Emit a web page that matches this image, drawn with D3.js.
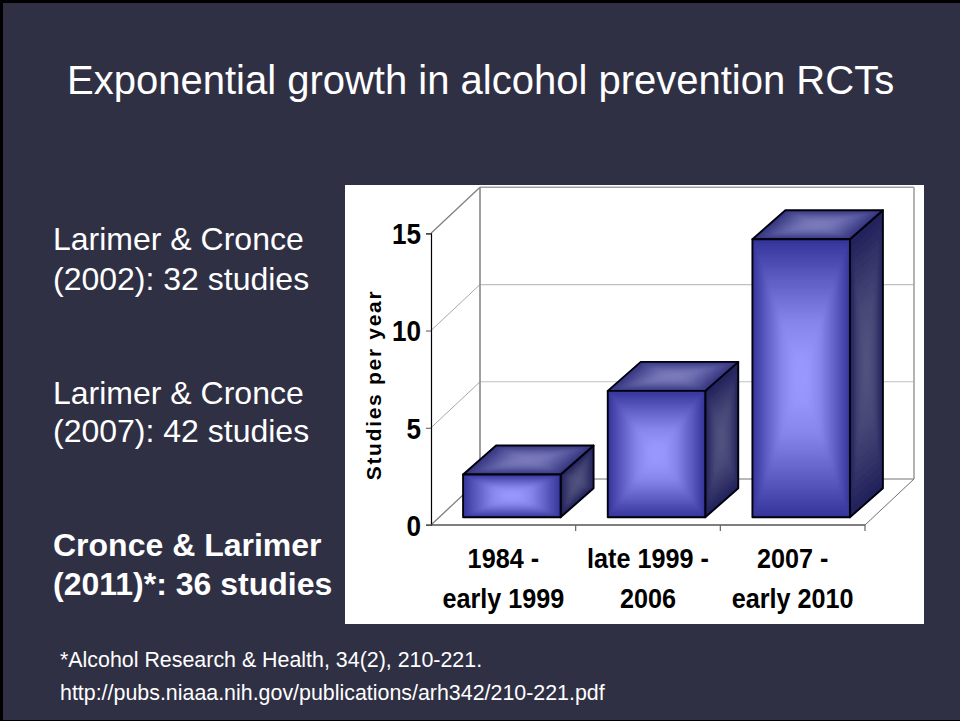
<!DOCTYPE html>
<html><head><meta charset="utf-8">
<script src="https://cdn.jsdelivr.net/npm/d3@7"></script>
<style>html,body{margin:0;padding:0;background:#303045}svg{display:block}
text{font-family:"Liberation Sans",Arial,sans-serif}</style></head>
<body><svg id="c" width="960" height="721"></svg>
<script>
const titleText = "Exponential growth in alcohol prevention RCTs";
const categories = [["1984 -","early 1999"],["late 1999 -","2006"],["2007 -","early 2010"]];
const values = [2.2, 6.5, 14.3];
const yTicks = [0,5,10,15];
const yLabel = "Studies per year";
const sideNotes = [
 {lines:["Larimer & Cronce","(2002): 32 studies"],bold:false,y:[250,290]},
 {lines:["Larimer & Cronce","(2007): 42 studies"],bold:false,y:[404,442]},
 {lines:["Cronce & Larimer","(2011)*: 36 studies"],bold:true,y:[556,595]}];
const footnotes = ["*Alcohol Research & Health, 34(2), 210-221.","http://pubs.niaaa.nih.gov/publications/arh342/210-221.pdf"];

const svg = d3.select("#c");
const defs = svg.append("defs");
defs.append("filter").attr("id","soft").attr("x","-10%").attr("y","-10%").attr("width","120%").attr("height","120%")
  .append("feGaussianBlur").attr("stdDeviation",1.6);
svg.append("rect").attr("width",960).attr("height",721).attr("fill","#303045");
svg.append("path").attr("d","M0 0H960V3H3V720H960V721H0Z").attr("fill","#000");
svg.append("text").attr("x",67).attr("y",94).attr("font-size",40).attr("fill","#fff").text(titleText);

sideNotes.forEach(n=>n.lines.forEach((l,i)=>svg.append("text").attr("x",53).attr("y",n.y[i])
  .attr("font-size",32).attr("font-weight",n.bold?"bold":"normal").attr("fill","#fff").text(l)));
footnotes.forEach((l,i)=>svg.append("text").attr("x",60).attr("y",[667,700][i]).attr("font-size",21.4).attr("fill","#fff").text(l));

svg.append("rect").attr("x",345).attr("y",185).attr("width",579).attr("height",439).attr("fill","#fff");

const y = d3.scaleLinear().domain([0,15]).range([525,233.3]);
const x = d3.scaleBand().domain(d3.range(categories.length)).range([431,865]);
const wallDx=49, wallDy=-46;
const g = svg.append("g");

// walls
yTicks.forEach(t=>{
  const major = t===0||t===15;
  g.append("line").attr("x1",x.range()[0]).attr("y1",y(t)).attr("x2",x.range()[0]+wallDx).attr("y2",y(t)+wallDy)
    .attr("stroke",major?"#808080":"#a8a8a8").attr("stroke-width",major?1.3:1);
  g.append("line").attr("x1",x.range()[0]+wallDx).attr("y1",y(t)+wallDy).attr("x2",x.range()[1]+wallDx).attr("y2",y(t)+wallDy)
    .attr("stroke",major?"#a0a0a0":"#c0c0c0").attr("stroke-width",major?1.5:1.2);
});
g.append("line").attr("x1",x.range()[0]+wallDx).attr("y1",y(0)+wallDy).attr("x2",x.range()[0]+wallDx).attr("y2",y(15)+wallDy).attr("stroke","#888").attr("stroke-width",1.6);
g.append("line").attr("x1",x.range()[1]+wallDx).attr("y1",y(0)+wallDy).attr("x2",x.range()[1]+wallDx).attr("y2",y(15)+wallDy).attr("stroke","#a0a0a0").attr("stroke-width",1.6);
g.append("line").attr("x1",x.range()[1]).attr("y1",y(0)).attr("x2",x.range()[1]+wallDx).attr("y2",y(0)+wallDy).attr("stroke","#707070").attr("stroke-width",1);

// pyramid-gradient quad: edge colour at the outline, centre colour in the middle
let gid=0;
const mixStops=[[0,0],[0.3,0.42],[0.6,0.8],[0.85,0.97],[1,1]];
function quad(pts, edge, centre){
  const cx=d3.mean(pts,p=>p[0]), cy=d3.mean(pts,p=>p[1]);
  const outline="M"+pts.join("L")+"Z";
  const mix=d3.interpolateRgb(edge,centre);
  const clip="q"+(gid++);
  defs.append("clipPath").attr("id",clip).append("path").attr("d",outline);
  const holder=g.append("g").attr("clip-path",`url(#${clip})`);
  holder.append("path").attr("d",outline).attr("fill",edge);
  const soft=holder.append("g").attr("filter","url(#soft)");
  pts.forEach((a,i)=>{
    const b=pts[(i+1)%4], dx=b[0]-a[0], dy=b[1]-a[1];
    const t=((cx-a[0])*dx+(cy-a[1])*dy)/(dx*dx+dy*dy);
    const fx=a[0]+t*dx, fy=a[1]+t*dy, id="g"+(gid++);
    const lg=defs.append("linearGradient").attr("id",id).attr("gradientUnits","userSpaceOnUse")
      .attr("x1",fx).attr("y1",fy).attr("x2",cx).attr("y2",cy);
    mixStops.forEach(s=>lg.append("stop").attr("offset",s[0]).attr("stop-color",mix(s[1])));
    soft.append("path").attr("d",`M${a}L${b}L${cx},${cy}Z`).attr("fill",`url(#${id})`)
      .attr("stroke",`url(#${id})`).attr("stroke-width",0.6);
  });
  g.append("path").attr("d",outline).attr("fill","none").attr("stroke","#00000c").attr("stroke-width",1.9).attr("stroke-linejoin","round");
}

// bars
const floorDx=8.5, floorDy=-7.7, barInset=0.163, barDx=33, barDy=-29;
values.forEach((v,i)=>{
  const x0=x(i)+x.bandwidth()*barInset+floorDx, x1=x(i)+x.bandwidth()*(1-barInset)+floorDx, yb=y(0)+floorDy, yt=y(v)+floorDy;
  quad([[x1,yt],[x1+barDx,yt+barDy],[x1+barDx,yb+barDy],[x1,yb]],"#20205a","#52527f");
  quad([[x0,yt],[x0+barDx,yt+barDy],[x1+barDx,yt+barDy],[x1,yt]],"#33337f","#7c7cbd");
  quad([[x0,yt],[x1,yt],[x1,yb],[x0,yb]],"#333399","#9999ff");
});

// axes
const narrow=0.9;
const axL = d3.axisLeft(y).tickValues(yTicks).tickSize(5);
const axY = svg.append("g").attr("transform",`translate(${x.range()[0]},0)`).call(axL);
axY.select(".domain").attr("stroke","#000").attr("stroke-width",1.2);
axY.selectAll("line").attr("stroke","#555");
axY.selectAll("text").attr("x",0).attr("dy","0.36em").attr("transform",`translate(-10,0) scale(${narrow},1)`)
  .attr("font-family","'Liberation Sans',sans-serif").attr("font-weight","bold").attr("font-size",29).attr("fill","#000");

const base = svg.append("g");
base.append("line").attr("x1",x.range()[0]-5).attr("y1",y(0)).attr("x2",x.range()[1]).attr("y2",y(0)).attr("stroke","#555").attr("stroke-width",1.4);
x.domain().forEach(i=>{
  base.append("line").attr("x1",x(i)+x.bandwidth()).attr("x2",x(i)+x.bandwidth()).attr("y1",y(0)).attr("y2",y(0)+6).attr("stroke","#666").attr("stroke-width",1.2);
  categories[i].forEach((l,k)=>base.append("text").attr("text-anchor","middle")
    .attr("transform",`translate(${x(i)+x.bandwidth()/2},${[568,608][k]}) scale(${narrow},1)`)
    .attr("font-weight","bold").attr("font-size",28).attr("fill","#000").text(l));
});
svg.append("text").attr("transform","translate(381,385) rotate(-90)").attr("text-anchor","middle")
  .attr("font-weight","bold").attr("font-size",21).attr("letter-spacing",1.7).attr("fill","#000").text(yLabel);
</script></body></html>
